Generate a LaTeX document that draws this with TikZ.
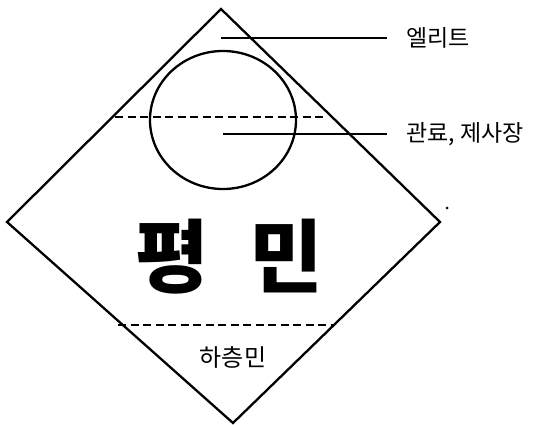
\documentclass[tikz,border=0pt]{standalone}
\usepackage{fontspec}
\usetikzlibrary{shapes.geometric}
\newfontfamily\kr{Noto Sans CJK KR}
\begin{document}
\begin{tikzpicture}[x=1pt,y=1pt,line width=2.3pt,
  lbl/.style={font=\kr\fontsize{23}{27}\selectfont, inner sep=0pt, anchor=west},
  dashline/.style={dash pattern=on 8pt off 4.5pt}]
\useasboundingbox (0,0) rectangle (538,425);
% diamond
\coordinate (T) at (221,416);
\coordinate (L) at (7,203);
\coordinate (B) at (233,2);
\coordinate (R) at (440,203);
\draw[line join=miter] (T) -- (R) -- (B) -- (L) -- cycle;
% circle
\node[draw, ellipse, minimum width=146pt, minimum height=138pt, inner sep=0pt, line width=2.3pt] (circ) at (223,305) {};
% dashed lines
\coordinate (d1a) at (115,308);
\coordinate (d1b) at (327,308);
\coordinate (d2a) at (118,100);
\coordinate (d2b) at (333,100);
\draw[dashline] (d1a) -- (d1b);
\draw[dashline] (d2a) -- (d2b);
% labels
\node[lbl] (elite) at (405,387) {엘리트};
\node[lbl] (official) at (405,291) {관료,\hspace{0.25em}제사장};
\coordinate (e0) at (221,387);
\coordinate (o0) at (223,291);
\draw (e0) -- (elite.west -| 387,0);
\draw (o0) -- (official.west -| 387,0);
% main texts
\node[font=\kr\bfseries\fontsize{80}{90}\selectfont, inner sep=0pt] (commoner) at (229,168) {평\hspace{0.5em}민};
\node[font=\kr\fontsize{24}{28}\selectfont, inner sep=0pt] (lower) at (233,68) {하층민};
% small dot
\fill (447,217) circle (1.5pt);
\end{tikzpicture}
\end{document}
